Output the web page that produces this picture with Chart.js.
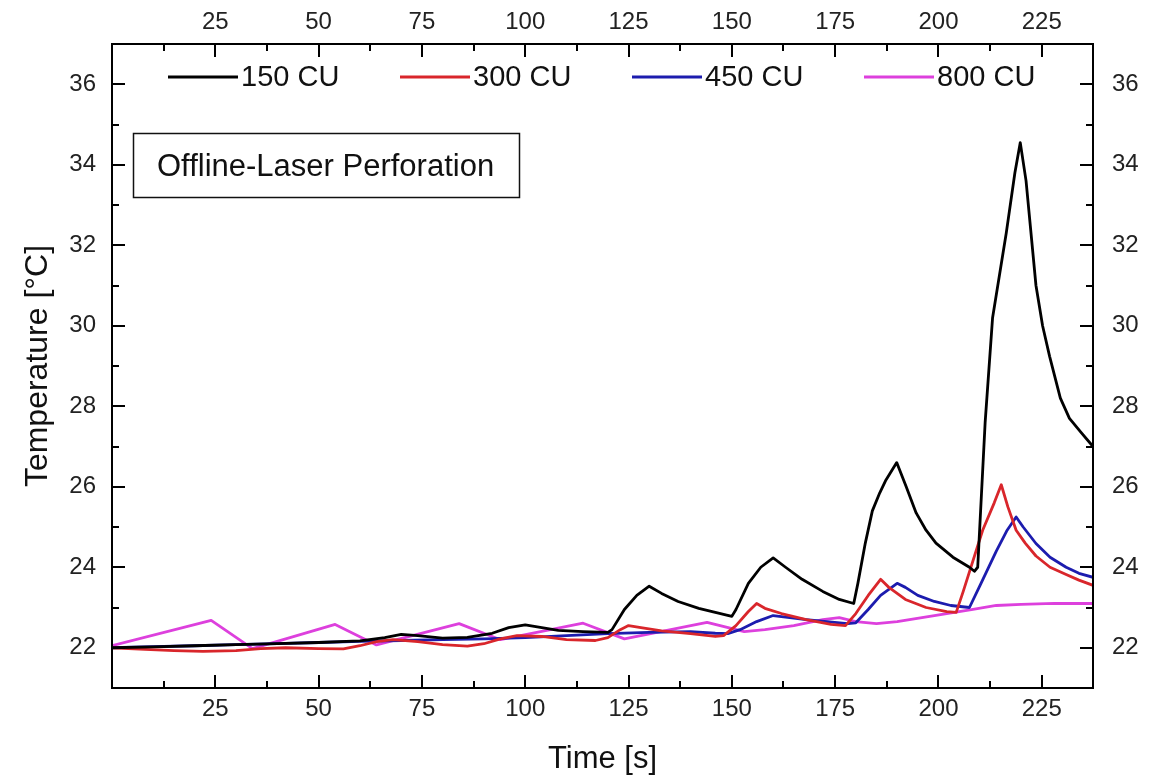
<!DOCTYPE html>
<html><head><meta charset="utf-8">
<script src="https://cdn.jsdelivr.net/npm/chart.js@4.4.1/dist/chart.umd.min.js"></script>
<style>html,body{margin:0;padding:0;background:#fff;overflow:hidden}#wrap{width:1155px;height:778px}</style>
</head><body><div id="wrap"><canvas id="c" width="1155" height="778"></canvas></div>
<script>
const seriesLabels = ['150 CU', '300 CU', '450 CU', '800 CU'];
const seriesColors = ['#000000', '#d9262b', '#1c1cae', '#dd40dd'];
const xTickValues = [25, 50, 75, 100, 125, 150, 175, 200, 225];
const xMinorValues = [12.5, 37.5, 62.5, 87.5, 112.5, 137.5, 162.5, 187.5, 212.5];
const yTickValues = [22, 24, 26, 28, 30, 32, 34, 36];
const yMinorValues = [23, 25, 27, 29, 31, 33, 35];
const boxText = 'Offline-Laser Perforation';

const t150 = [0, 10, 20, 30, 40, 50, 60, 66, 70, 74, 80, 86, 92, 96, 100, 104, 108, 114, 120, 121, 124, 127, 130, 133, 137, 142, 146, 150, 151, 154, 157, 160, 163, 167, 172, 176, 179.5, 180.5, 182.3, 184, 185.8, 187.3, 189.9, 192.2, 194.6, 197, 199.4, 203.5, 207.5, 208.7, 209.5, 211.3, 213.1, 216.4, 218.5, 219.8, 221.2, 223.6, 225.2, 226.9, 229.5, 231.7, 234.5, 237.4];
const v150 = [22.0, 22.02, 22.05, 22.08, 22.1, 22.13, 22.17, 22.25, 22.33, 22.3, 22.24, 22.26, 22.36, 22.5, 22.57, 22.5, 22.43, 22.4, 22.38, 22.45, 22.95, 23.3, 23.53, 23.35, 23.15, 22.98, 22.88, 22.78, 22.95, 23.6, 24.0, 24.23, 24.0, 23.7, 23.4, 23.2, 23.1, 23.6, 24.6, 25.4, 25.85, 26.17, 26.6, 26.0, 25.35, 24.92, 24.6, 24.25, 24.0, 23.9, 24.0, 27.6, 30.2, 32.3, 33.8, 34.55, 33.6, 31.0, 30.0, 29.24, 28.2, 27.7, 27.35, 27.0];

const t300 = [0, 8, 15, 22, 30, 36, 42, 50, 56, 60, 64, 68, 74, 80, 86, 90, 94, 98, 104, 110, 117, 120, 123, 125, 128, 133, 140, 146, 148, 151, 154, 156, 158, 162, 168, 174, 177.5, 180, 183, 186, 188, 192, 197, 202, 204.3, 206, 210.7, 213.5, 215.2, 216.8, 218.8, 221, 223.6, 227, 230.9, 234, 237.4];
const v300 = [22.0, 21.96, 21.93, 21.91, 21.93, 21.98, 22.0, 21.98, 21.97, 22.05, 22.15, 22.2, 22.15, 22.08, 22.04, 22.1, 22.22, 22.3, 22.28, 22.2, 22.18, 22.25, 22.45, 22.55, 22.5, 22.42, 22.35, 22.28, 22.3, 22.55, 22.9, 23.1, 22.98, 22.85, 22.7, 22.58, 22.55, 22.85, 23.3, 23.7, 23.5, 23.2, 23.0, 22.9, 22.88, 23.4, 24.92, 25.6, 26.05, 25.5, 24.92, 24.6, 24.28, 24.0, 23.82, 23.68, 23.55];

const t450 = [0, 10, 20, 30, 40, 50, 60, 70, 80, 90, 100, 110, 120, 130, 140, 146, 149, 152, 156, 160, 163, 168, 173, 178, 180, 183, 186, 190, 192, 195, 199, 203, 207.5, 210.3, 214, 216.5, 218.8, 220.5, 223.6, 227, 230.9, 234, 237.4];
const v450 = [22.0, 22.03, 22.05, 22.08, 22.1, 22.13, 22.16, 22.18, 22.2, 22.22, 22.25, 22.3, 22.35, 22.38, 22.4, 22.36, 22.35, 22.45, 22.65, 22.8, 22.76, 22.7, 22.65, 22.6, 22.62, 22.95, 23.3, 23.6, 23.5, 23.3, 23.15, 23.05, 23.0, 23.6, 24.4, 24.9, 25.25, 25.0, 24.59, 24.25, 24.0, 23.85, 23.75];

const t800 = [0, 24, 34, 54, 64, 84, 94, 114, 124, 144, 153, 158, 165, 172, 176, 180, 185, 190, 196, 202, 208, 214, 220, 228, 237.4];
const v800 = [22.05, 22.68, 21.98, 22.58, 22.07, 22.6, 22.2, 22.61, 22.22, 22.63, 22.4, 22.45, 22.55, 22.7, 22.75, 22.65, 22.6, 22.65, 22.75, 22.85, 22.95, 23.05, 23.08, 23.1, 23.1];

const seriesT = [t150, t300, t450, t800];
const seriesV = [v150, v300, v450, v800];

const FONT = '"Liberation Sans", Arial, sans-serif';
const X_MIN = 0, X_MAX = 237.4, Y_MIN = 21, Y_MAX = 37;

const datasets = seriesLabels.map((lab, i) => ({
  label: lab,
  data: seriesT[i].map((t, k) => ({x: t, y: seriesV[i][k]})),
  borderColor: seriesColors[i],
  backgroundColor: seriesColors[i],
  borderWidth: 2.8,
  pointRadius: 0,
  tension: 0,
  borderJoinStyle: 'round',
  fill: false,
  order: i
}));

function setTicks(vals) { return s => { s.ticks = vals.map(v => ({value: v})); }; }
const tickFont = {family: FONT, size: 24};

const framePlugin = {
  id: 'frame',
  afterDatasetsDraw(chart) {
    const ctx = chart.ctx, a = chart.chartArea;
    const xs = chart.scales.x, ys = chart.scales.y;
    ctx.save();
    ctx.strokeStyle = '#000';
    ctx.lineWidth = 2;
    ctx.strokeRect(a.left, a.top, a.right - a.left, a.bottom - a.top);
    const tick = (vals, len, horiz) => {
      vals.forEach(v => {
        ctx.beginPath();
        if (horiz) {
          const px = Math.round(xs.getPixelForValue(v));
          ctx.moveTo(px, a.bottom); ctx.lineTo(px, a.bottom - len);
          ctx.moveTo(px, a.top); ctx.lineTo(px, a.top + len);
        } else {
          const py = Math.round(ys.getPixelForValue(v));
          ctx.moveTo(a.left, py); ctx.lineTo(a.left + len, py);
          ctx.moveTo(a.right, py); ctx.lineTo(a.right - len, py);
        }
        ctx.stroke();
      });
    };
    tick(xTickValues, 13, true);
    tick(xMinorValues, 7, true);
    tick(yTickValues, 13, false);
    tick(yMinorValues, 7, false);
    // legend
    const lx = [168, 400, 632, 864];
    const ly = 77;
    ctx.font = '29px ' + FONT;
    ctx.textBaseline = 'middle';
    ctx.textAlign = 'left';
    chart.data.datasets.forEach((d, i) => {
      ctx.strokeStyle = d.borderColor;
      ctx.lineWidth = 3;
      ctx.beginPath();
      ctx.moveTo(lx[i], ly); ctx.lineTo(lx[i] + 70, ly);
      ctx.stroke();
      ctx.fillStyle = '#111';
      ctx.fillText(d.label, lx[i] + 73, ly + 1);
    });
    // annotation box
    ctx.strokeStyle = '#111';
    ctx.lineWidth = 1.5;
    ctx.strokeRect(133.5, 133.5, 386, 64);
    ctx.font = '31px ' + FONT;
    ctx.fillStyle = '#111';
    ctx.fillText(boxText, 157, 167);
    ctx.restore();
  }
};

new Chart(document.getElementById('c'), {
  type: 'line',
  data: {datasets},
  options: {
    responsive: false,
    animation: false,
    devicePixelRatio: 1,
    layout: {padding: 0},
    plugins: {legend: {display: false}, tooltip: {enabled: false}},
    scales: {
      x: {
        type: 'linear', position: 'bottom', min: X_MIN, max: X_MAX,
        afterBuildTicks: setTicks(xTickValues),
        afterFit: s => { s.height = 90; },
        grid: {display: false, drawTicks: false}, border: {display: false},
        ticks: {font: tickFont, color: '#222', padding: 7, maxRotation: 0, autoSkip: false},
        title: {display: true, text: 'Time [s]', font: {family: FONT, size: 31}, color: '#111', padding: {top: 0, bottom: 0}}
      },
      x2: {
        type: 'linear', position: 'top', min: X_MIN, max: X_MAX,
        afterBuildTicks: setTicks(xTickValues),
        afterFit: s => { s.height = 44; },
        grid: {display: false, drawTicks: false}, border: {display: false},
        ticks: {font: tickFont, color: '#222', padding: 7, maxRotation: 0, autoSkip: false}
      },
      y: {
        type: 'linear', position: 'left', min: Y_MIN, max: Y_MAX,
        afterBuildTicks: setTicks(yTickValues),
        afterFit: s => { s.width = 112; },
        grid: {display: false, drawTicks: false}, border: {display: false},
        ticks: {font: tickFont, color: '#222', padding: 16},
        title: {display: true, text: 'Temperature [°C]', font: {family: FONT, size: 32}, color: '#111', padding: {top: 19, bottom: 0}}
      },
      y2: {
        type: 'linear', position: 'right', min: Y_MIN, max: Y_MAX,
        afterBuildTicks: setTicks(yTickValues),
        afterFit: s => { s.width = 62; },
        grid: {display: false, drawTicks: false}, border: {display: false},
        ticks: {font: tickFont, color: '#222', padding: 19}
      }
    }
  },
  plugins: [framePlugin]
});
</script></body></html>
